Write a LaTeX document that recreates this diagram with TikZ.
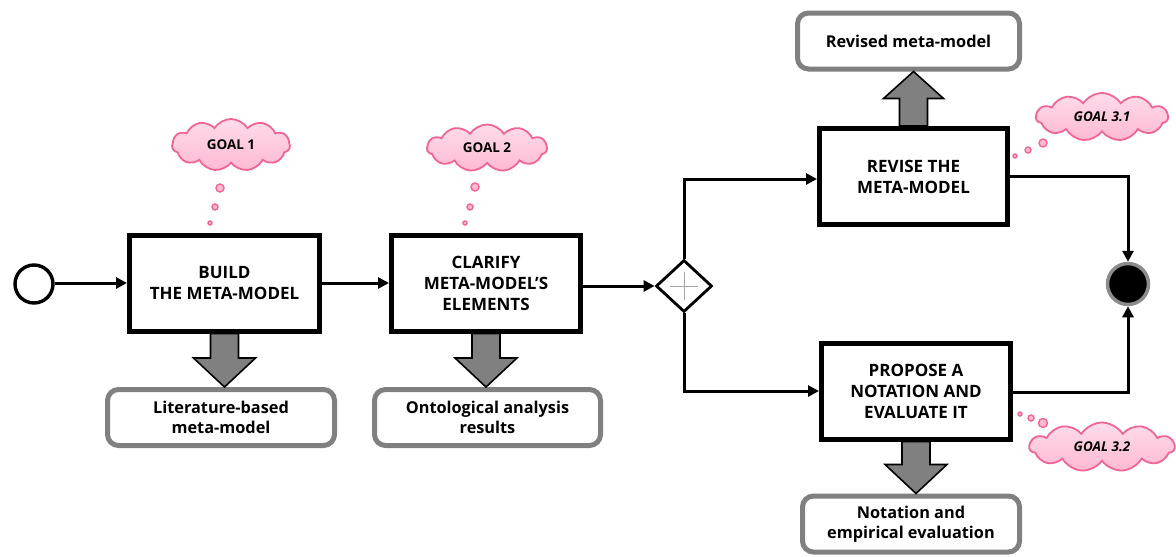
\documentclass[tikz,border=0pt]{standalone}
\usepackage{fontspec}
\setmainfont{Open Sans}
\usetikzlibrary{shapes.geometric,shapes.symbols,arrows.meta,calc}

\definecolor{cloudfill}{RGB}{255,185,210}
\definecolor{cloudtop}{RGB}{255,220,233}
\definecolor{cloudedge}{RGB}{240,100,150}
\definecolor{blockgray}{RGB}{128,128,128}
\definecolor{outgray}{RGB}{128,128,128}

\tikzset{
  task/.style={draw=black, line width=5pt, fill=white, align=center,
    minimum width=#1, minimum height=96pt, inner sep=2pt,
    font=\fontsize{17}{21}\selectfont\bfseries},
  task/.default=190pt,
  result/.style={draw=outgray, line width=5pt, fill=white, rounded corners=11pt,
    align=center, minimum width=#1, minimum height=56pt, inner sep=2pt,
    font=\fontsize{16.3}{20}\selectfont\bfseries},
  result/.default=222pt,
  flow/.style={line width=3pt, -{Triangle[length=11pt,width=11pt]}},
  fatarrow/.style={fill=blockgray, draw=black, line width=1.6pt, line join=miter},
  goal/.style={cloud, cloud puffs=11, cloud puff arc=115, aspect=2.6,
    inner sep=0pt, draw=cloudedge, line width=1.8pt,
    top color=cloudtop, bottom color=cloudfill,
    font=\fontsize{13.5}{15}\selectfont\bfseries},
  bubble/.style={circle, draw=cloudedge, fill=cloudfill, line width=1.4pt, inner sep=0pt}
}

% fat block arrow from one node to another (vertical)
\newcommand{\fatdown}[2]{%
  \path[fatarrow] let \p1=(#1.south), \p2=(#2.north) in
    (\x1-14pt,\y1) -- (\x1+14pt,\y1) -- (\x1+14pt,\y2+29pt) -- (\x1+31pt,\y2+29pt)
    -- (\x1,\y2) -- (\x1-31pt,\y2+29pt) -- (\x1-14pt,\y2+29pt) -- cycle;}
\newcommand{\fatup}[2]{%
  \path[fatarrow] let \p1=(#1.north), \p2=(#2.south) in
    (\x1-14pt,\y1) -- (\x1+14pt,\y1) -- (\x1+14pt,\y2-27pt) -- (\x1+30pt,\y2-27pt)
    -- (\x1,\y2) -- (\x1-30pt,\y2-27pt) -- (\x1-14pt,\y2-27pt) -- cycle;}

\begin{document}
\begin{tikzpicture}[x=1pt,y=-1pt]
\useasboundingbox (0,0) rectangle (1176,557);

% events
\node (start) [circle, draw=black, line width=3.4pt, minimum size=38pt, inner sep=0pt] at (34,284) {};
\node (finish) [circle, draw=black!45, fill=black, line width=3.5pt, minimum size=41pt, inner sep=0pt] at (1128,284) {};

% activities
\node (build) [task=190pt] at (224.5,283) {BUILD\\THE META-MODEL};
\node (clarify) [task=189pt] at (486,283) {CLARIFY\\META-MODEL'S\\ELEMENTS};
\node (revise) [task=188pt] at (913.5,176.5) {REVISE THE\\META-MODEL};
\node (propose) [task=189pt] at (916,391) {PROPOSE A\\NOTATION AND\\EVALUATE IT};

% gateway
\node (gate) [diamond, draw=black, line width=2.8pt, fill=white, minimum width=56pt,
  minimum height=52pt, inner sep=0pt] at (684,286) {};
\draw[black!35, line width=1pt] ($(gate)+(-14,0)$) -- ($(gate)+(14,0)$)
  ($(gate)+(0,-14)$) -- ($(gate)+(0,14)$);

% results
\node (litres) [result=227pt] at (221,417.5) {Literature-based\\meta-model};
\node (ontores) [result=226pt] at (487.5,417.5) {Ontological analysis\\results};
\node (revres) [result=222pt] at (908.5,41) {Revised meta-model};
\node (notres) [result=217pt] at (911,524) {Notation and\\empirical evaluation};

% sequence flow
\draw[flow] (start.east |- build.west) -- (build.west);
\draw[flow] (build.east) -- (build.east -| clarify.west);
\draw[flow] (clarify.east |- gate.west) -- (gate.west);
\draw[flow] (gate.north) |- ($(revise.west)+(0,2.5)$);
\draw[flow] (gate.south) |- (propose.west);
\draw[flow] (revise.east) -| (finish.north);
\draw[flow] ($(propose.east)+(0,1.5)$) -| (finish.south);

% produced artefacts
\fatdown{build}{litres}
\fatdown{clarify}{ontores}
\fatdown{propose}{notres}
\fatup{revise}{revres}

% goals
\node (g1) [goal, minimum width=118pt, minimum height=52pt] at (231,145) {GOAL 1};
\node (g1a) [bubble, minimum size=8pt] at (220,188) {};
\node (g1b) [bubble, minimum size=6pt] at (215,207) {};
\node (g1c) [bubble, minimum size=4pt] at (210,223) {};

\node (g2) [goal, minimum width=120pt, minimum height=47pt] at (487,148) {GOAL 2};
\node (g2a) [bubble, minimum size=8pt] at (475,187) {};
\node (g2b) [bubble, minimum size=6pt] at (470,207) {};
\node (g2c) [bubble, minimum size=4pt] at (465,223) {};

\node (g31) [goal, minimum width=132pt, minimum height=48pt] at (1102,117) {\itshape GOAL 3.1};
\node (g31a) [bubble, minimum size=8pt] at (1043,143) {};
\node (g31b) [bubble, minimum size=6pt] at (1028,150) {};
\node (g31c) [bubble, minimum size=4pt] at (1015,156) {};

\node (g32) [goal, minimum width=145pt, minimum height=49pt] at (1102,447) {\itshape GOAL 3.2};
\node (g32a) [bubble, minimum size=9pt] at (1043,423) {};
\node (g32b) [bubble, minimum size=6pt] at (1031,418) {};
\node (g32c) [bubble, minimum size=4pt] at (1020,414) {};
\end{tikzpicture}
\end{document}
